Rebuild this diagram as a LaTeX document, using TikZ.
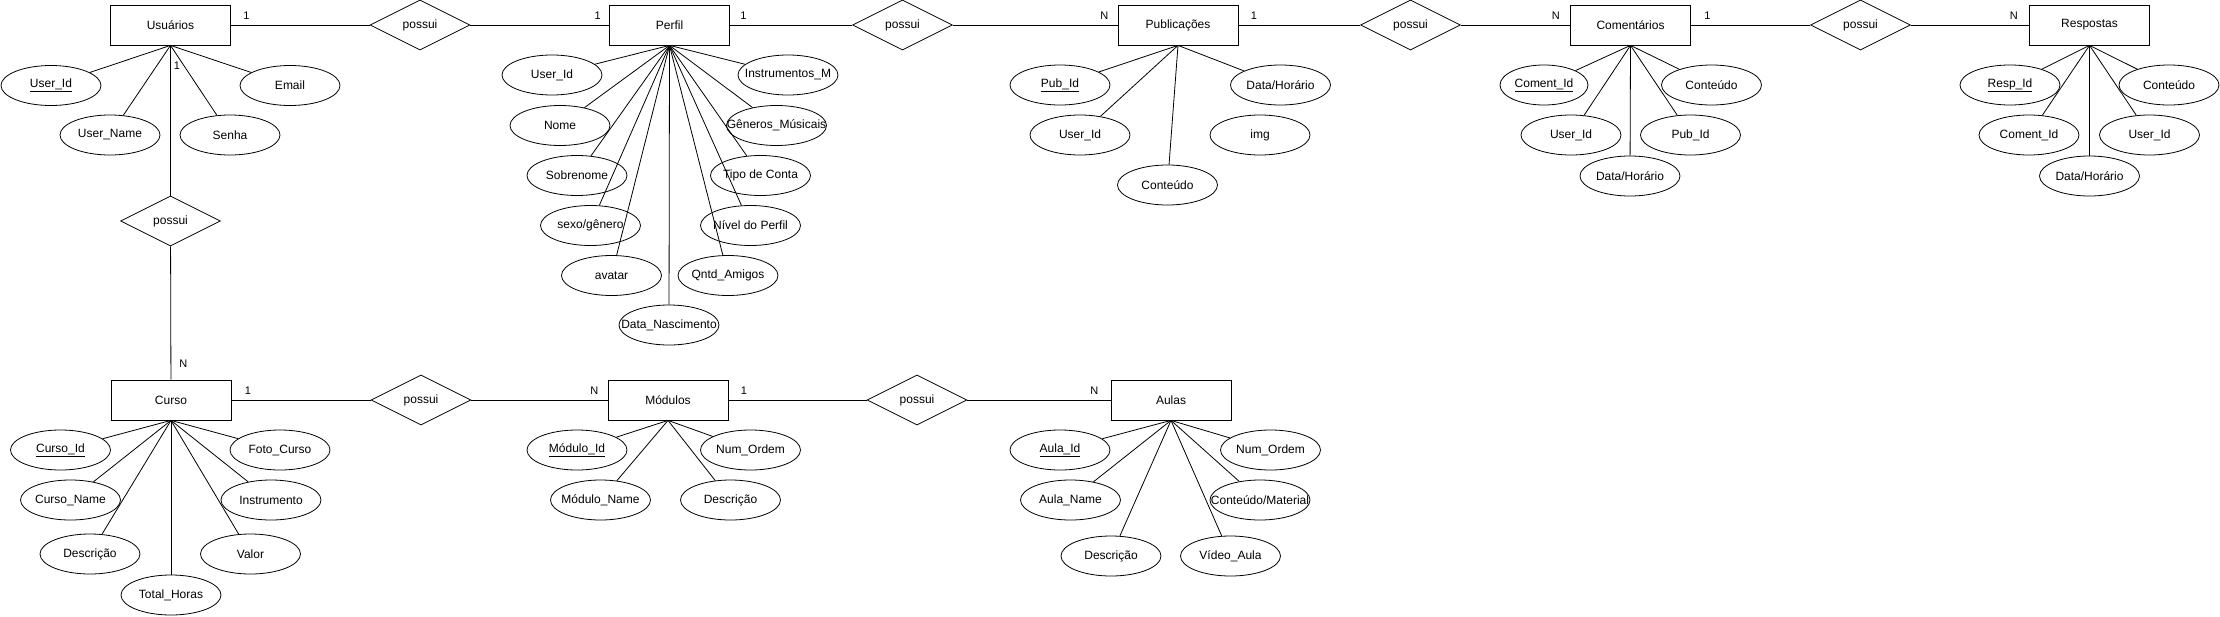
\documentclass[tikz,border=0pt]{standalone}
\usepackage{fontspec}
\setmainfont{Liberation Sans}
\usetikzlibrary{shapes.geometric}
\tikzset{
  entity/.style={draw, rectangle, minimum width=120pt, minimum height=40pt},
  rel/.style={draw, diamond, aspect=2, inner sep=0pt, minimum width=100pt, minimum height=50pt},
  attr/.style={draw, ellipse, inner sep=0pt, inner xsep=-20pt, minimum width=100pt, minimum height=40pt},
  card/.style={font=\fontsize{11}{13}\selectfont, inner sep=1pt, yshift=4pt},
}
\begin{document}
\begin{tikzpicture}[x=1pt, y=-1pt, line width=0.8pt, font=\fontsize{12}{14}\selectfont]
  \useasboundingbox (0,0) rectangle (2220,616);

  % entities
  \node [entity] (usr)  at (170.5,25)  {Usuários};
  \node [entity] (perf) at (669.5,25)  {Perfil};
  \node [entity] (pub)  at (1178,25)   {Publicações};
  \node [entity] (com)  at (1630.5,25) {Comentários};
  \node [entity] (resp) at (2089.5,25) {Respostas};
  \node [entity] (curso) at (171,400)  {Curso};
  \node [entity] (mod)  at (668,400)   {Módulos};
  \node [entity] (aula) at (1171,400)  {Aulas};

  % relationships
  \node [rel] (r1) at (420,25)     {possui};
  \node [rel] (r2) at (902.5,25)   {possui};
  \node [rel] (r3) at (1410.5,25)  {possui};
  \node [rel] (r4) at (1860.5,25)  {possui};
  \node [rel] (r5) at (170.5,221)  {possui};
  \node [rel] (r6) at (421,400)    {possui};
  \node [rel] (r7) at (917,400)    {possui};

  \draw (usr) -- (r1) node [card, at start, anchor=south west, xshift=11pt] {1};
  \draw (r1) -- (perf) node [card, at end, anchor=south east, xshift=-7pt] {1};
  \draw (perf) -- (r2) node [card, at start, anchor=south west, xshift=9pt] {1};
  \draw (r2) -- (pub) node [card, at end, anchor=south east, xshift=-8pt] {N};
  \draw (pub) -- (r3) node [card, at start, anchor=south west, xshift=11pt] {1};
  \draw (r3) -- (com) node [card, at end, anchor=south east, xshift=-9pt] {N};
  \draw (com) -- (r4) node [card, at start, anchor=south west, xshift=12pt] {1};
  \draw (r4) -- (resp) node [card, at end, anchor=south east, xshift=-10pt] {N};
  \draw (usr) -- (r5) node [card, at start, anchor=north west, xshift=2pt, yshift=-19pt] {1};
  \draw (r5) -- (curso) node [card, at end, anchor=south west, xshift=7pt, yshift=7pt] {N};
  \draw (curso) -- (r6) node [card, at start, anchor=south west, xshift=12pt] {1};
  \draw (r6) -- (mod) node [card, at end, anchor=south east, xshift=-8pt] {N};
  \draw (mod) -- (r7) node [card, at start, anchor=south west, xshift=11pt] {1};
  \draw (r7) -- (aula) node [card, at end, anchor=south east, xshift=-11pt] {N};

  % Usuarios
  \node [attr] (u1) at (51,85.5)  {\underline{User\_Id}};
  \node [attr] (u2) at (110,135)  {User\_Name};
  \node [attr] (u3) at (230,135)  {Senha};
  \node [attr] (u4) at (290,85.5) {Email};
  \foreach \a in {u1,u2,u3,u4} \draw (usr.south) -- (\a);

  % Perfil
  \node [attr] (p1)  at (552,75)      {User\_Id};
  \node [attr] (p2)  at (560,125.5)   {Nome};
  \node [attr] (p3)  at (577,175.5)   {Sobrenome};
  \node [attr] (p4)  at (590.5,225.5) {sexo/gênero};
  \node [attr] (p5)  at (611.5,275.5) {avatar};
  \node [attr] (p6)  at (669,325)     {Data\_Nascimento};
  \node [attr] (p7)  at (728,275.5)   {Qntd\_Amigos};
  \node [attr] (p8)  at (750.5,225.5) {Nível do Perfil};
  \node [attr] (p9)  at (760.5,175.5) {Tipo de Conta};
  \node [attr] (p10) at (776.5,125.5) {Gêneros\_Músicais};
  \node [attr] (p11) at (788,75)      {Instrumentos\_M};
  \foreach \a in {p1,p2,p3,p4,p5,p6,p7,p8,p9,p10,p11} \draw (perf.south) -- (\a);

  % Publicacoes
  \node [attr] (b1) at (1060,85)    {\underline{Pub\_Id}};
  \node [attr] (b2) at (1080,135)   {User\_Id};
  \node [attr] (b3) at (1167.5,185) {Conteúdo};
  \node [attr] (b4) at (1280.5,85)  {Data/Horário};
  \node [attr] (b5) at (1260,135)   {img};
  \foreach \a in {b1,b2,b3,b4} \draw (pub.south) -- (\a);

  % Comentarios
  \node [attr, minimum width=88pt] (c1) at (1544,85) {\underline{Coment\_Id}};
  \node [attr] (c2) at (1571,135)   {User\_Id};
  \node [attr] (c3) at (1630,176)   {Data/Horário};
  \node [attr] (c4) at (1690.5,135) {Pub\_Id};
  \node [attr] (c5) at (1711.5,85)  {Conteúdo};
  \foreach \a in {c1,c2,c3,c4,c5} \draw (com.south) -- (\a);

  % Respostas
  \node [attr] (s1) at (2010,85)    {\underline{Resp\_Id}};
  \node [attr] (s2) at (2029,135)   {Coment\_Id};
  \node [attr] (s3) at (2089.5,176) {Data/Horário};
  \node [attr] (s4) at (2149.5,135) {User\_Id};
  \node [attr] (s5) at (2169,85)    {Conteúdo};
  \foreach \a in {s1,s2,s3,s4,s5} \draw (resp.south) -- (\a);

  % Curso
  \node [attr] (k1) at (60.5,450)  {\underline{Curso\_Id}};
  \node [attr] (k2) at (70.5,500)  {Curso\_Name};
  \node [attr] (k3) at (90,554)    {Descrição};
  \node [attr] (k4) at (171,595)   {Total\_Horas};
  \node [attr] (k5) at (250.5,554) {Valor};
  \node [attr] (k6) at (271,500)   {Instrumento};
  \node [attr] (k7) at (280,450)   {Foto\_Curso};
  \foreach \a in {k1,k2,k3,k4,k5,k6,k7} \draw (curso.south) -- (\a);

  % Modulos
  \node [attr] (m1) at (577,450)   {\underline{Módulo\_Id}};
  \node [attr] (m2) at (600.5,500) {Módulo\_Name};
  \node [attr] (m3) at (730.5,500) {Descrição};
  \node [attr] (m4) at (750.5,450) {Num\_Ordem};
  \foreach \a in {m1,m2,m3,m4} \draw (mod.south) -- (\a);

  % Aulas
  \node [attr] (a1) at (1060,450)   {\underline{Aula\_Id}};
  \node [attr] (a2) at (1070.5,500) {Aula\_Name};
  \node [attr] (a3) at (1111,556)   {Descrição};
  \node [attr] (a4) at (1230.5,556) {Vídeo\_Aula};
  \node [attr] (a5) at (1260,500)   {Conteúdo/Material};
  \node [attr] (a6) at (1270.5,450) {Num\_Ordem};
  \foreach \a in {a1,a2,a3,a4,a5,a6} \draw (aula.south) -- (\a);
\end{tikzpicture}
\end{document}
